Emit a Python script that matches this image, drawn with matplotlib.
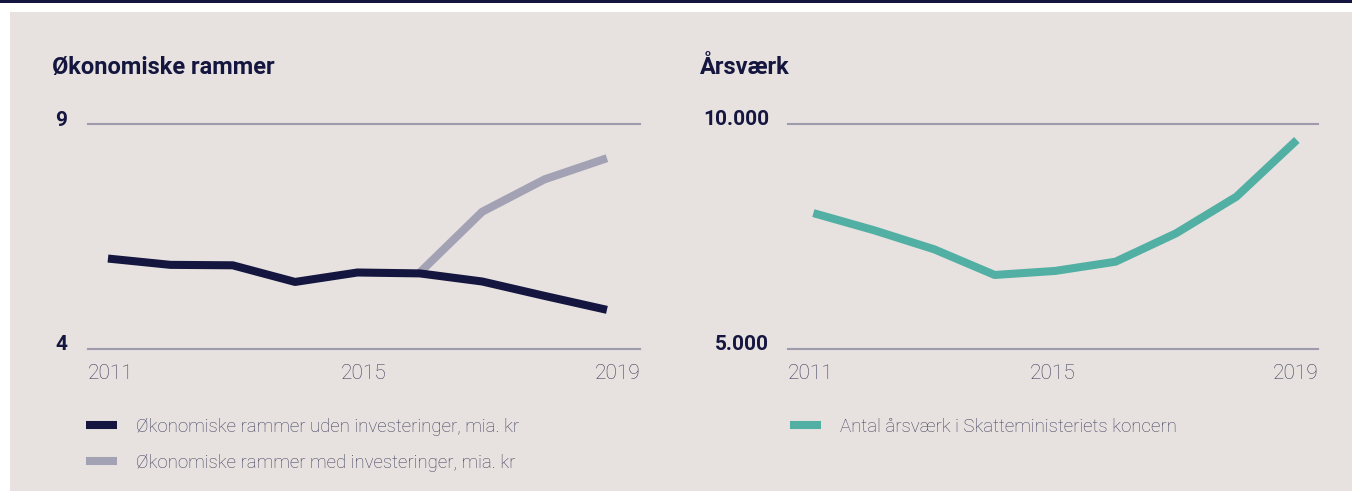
import numpy as np
import matplotlib
matplotlib.use("Agg")
import matplotlib.pyplot as plt
from matplotlib.patches import Rectangle
from matplotlib.transforms import blended_transform_factory, offset_copy

# data
years = [2011, 2012, 2013, 2014, 2015, 2016, 2017, 2018, 2019]
rammer_uden = [6.01, 5.87, 5.86, 5.49, 5.70, 5.68, 5.50, 5.18, 4.87]
years_med = [2016, 2017, 2018, 2019]
rammer_med = [5.70, 7.05, 7.77, 8.24]
aarsvaerk = [8020, 7640, 7215, 6645, 6735, 6940, 7570, 8385, 9645]

tick_labels = ["2011", "2015", "2019"]
left_yticks = [4, 9]
left_ylabels = ["4", "9"]
right_yticks = [5000, 10000]
right_ylabels = ["5.000", "10.000"]

label_uden = "Økonomiske rammer uden investeringer, mia. kr"
label_med = "Økonomiske rammer med investeringer, mia. kr"
label_aars = "Antal årsværk i Skatteministeriets koncern"

NAVY = "#15163f"
GREY_LINE = "#a3a2b5"
TEAL = "#52afa3"
GRID = "#9e9bad"
PANEL = "#e7e2df"
TXT = "#3c3c5c"

W, H = 1352, 491
fig = plt.figure(figsize=(W / 100, H / 100), dpi=100, facecolor="white")

# background panel and top bar
fig.patches.append(Rectangle((10 / W, 0), 1 - 10 / W, 1 - 12 / H, transform=fig.transFigure,
                             facecolor=PANEL, edgecolor="none", zorder=-5))
fig.patches.append(Rectangle((0, 1 - 3 / H), 1, 3 / H, transform=fig.transFigure,
                             facecolor=NAVY, edgecolor="none", zorder=-5))

small_font = ["Roboto", "DejaVu Sans"]
head_font = ["Roboto", "DejaVu Sans"]

bottom = 1 - 349 / H
height = (349 - 124) / H


def setup_axes(rect, ylims, yticks, ylabels, xlim, label_right_px):
    ax = fig.add_axes(rect)
    ax.set_facecolor("none")
    ax.set_xlim(*xlim)
    ax.set_ylim(*ylims)
    for s in ax.spines.values():
        s.set_visible(False)
    ax.set_xticks([])
    ax.set_yticks([])
    for yv in yticks:
        ax.axhline(yv, color=GRID, lw=1.5, clip_on=False, zorder=1)
    tr = offset_copy(blended_transform_factory(fig.transFigure, ax.transData), fig=fig, y=4, units="dots")
    for yv, lab in zip(yticks, ylabels):
        ax.text(label_right_px / W, yv, lab, transform=tr, ha="right", va="center",
                fontsize=15, fontweight="bold", color=NAVY, family=head_font)
    # x labels: first left aligned, middle centred, last right aligned
    for xf, lab, ha in zip([0, 0.5, 1], tick_labels, ["left", "center", "right"]):
        ax.text(xf, -0.108, lab, transform=ax.transAxes, ha=ha, va="center",
                fontsize=15, fontweight="light", color=TXT, family=small_font)
    return ax


ax1 = setup_axes([88 / W, bottom, (640 - 88) / W, height], (4, 9), left_yticks, left_ylabels,
                 (2010.68, 2019.53), 67)
ax1.plot(years, rammer_uden, color=NAVY, lw=5.8, solid_capstyle="butt", label=label_uden, zorder=3)
ax1.plot(years_med, rammer_med, color=GREY_LINE, lw=5.8, solid_capstyle="butt", label=label_med, zorder=2)

ax2 = setup_axes([788 / W, bottom, (1318 - 788) / W, height], (5000, 10000), right_yticks, right_ylabels,
                 (2010.58, 2019.35), 769)
ax2.plot(years, aarsvaerk, color=TEAL, lw=5.8, solid_capstyle="butt", label=label_aars, zorder=3)

fig.text(52 / W, 1 - 74 / H, "Økonomiske rammer", fontsize=17, fontweight="bold",
         color=NAVY, family=head_font, va="baseline")
fig.text(700 / W, 1 - 74 / H, "Årsværk", fontsize=17, fontweight="bold",
         color=NAVY, family=head_font, va="baseline")

for ax, x0 in [(ax1, 86), (ax2, 790)]:
    leg = ax.legend(loc="upper left", bbox_to_anchor=(x0 / W, 1 - 418 / H), bbox_transform=fig.transFigure,
                    frameon=False, borderpad=0, borderaxespad=0, handlelength=1.65,
                    handletextpad=1.05, labelspacing=0.95,
                    prop={"family": small_font, "size": 13.4, "weight": "light"})
    for t in leg.get_texts():
        t.set_color(TXT)
    for h in leg.get_lines():
        h.set_linewidth(5.8)

fig.savefig("out.png", dpi=100, facecolor="white")
